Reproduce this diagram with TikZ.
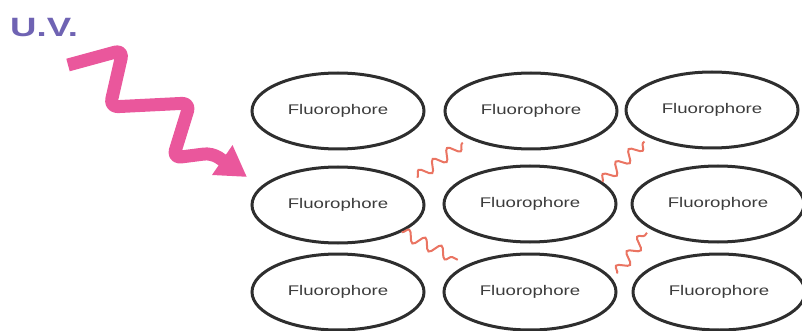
\documentclass[tikz,border=0pt]{standalone}
\usepackage{fontspec}
\usepackage{xcolor}
\usepackage{tikz}
\usetikzlibrary{arrows.meta,calc,shapes.geometric,decorations.pathmorphing}
\newfontfamily\fluofont[FakeStretch=1.33]{Liberation Sans}
\newfontfamily\uvfont[FakeStretch=1.38]{Liberation Sans}
\definecolor{Ink}{HTML}{2E2E2E}
\definecolor{TextGray}{HTML}{3C3C3C}
\definecolor{UVPurple}{HTML}{6F63B3}
\definecolor{UVPink}{HTML}{EA579C}
\definecolor{Glow}{HTML}{EA7462}

\begin{document}
\begin{tikzpicture}[x=1pt, y=-1pt, >=Latex]
\tikzset{fl/.style={ellipse, draw=Ink, line width=3pt, minimum width=172pt, minimum height=76pt, inner sep=0pt, text=TextGray, font=\fluofont\fontsize{14}{16}\selectfont}, glow/.style={Glow, line width=2pt, decorate, decoration={snake, segment length=18pt, amplitude=5.5pt}}, uvray/.style={UVPink, line width=13pt, rounded corners=8pt, line join=round, -{Triangle[length=30pt, width=34pt]}}}
\useasboundingbox (0,0) rectangle (802,331);
\node[anchor=base west, inner sep=0pt, text=UVPurple, font=\uvfont\bfseries\fontsize{26.5}{30}\selectfont] (uv) at (10,37) {U.V.};
\node[fl] (f11) at (338,111) {Fluorophore};
\node[fl] (f12) at (531,111) {Fluorophore};
\node[fl] (f13) at (712,110) {Fluorophore};
\node[fl] (f21) at (338,205) {Fluorophore};
\node[fl] (f22) at (530,204) {Fluorophore};
\node[fl] (f23) at (718,204) {Fluorophore};
\node[fl] (f31) at (338,292) {Fluorophore};
\node[fl] (f32) at (530,292) {Fluorophore};
\node[fl] (f33) at (719,292) {Fluorophore};
\draw[uvray] (68,65) -- (123,50) -- (110,107) -- (190,103) -- (173,158) -- (212,153) -- (247,177);
\foreach \u/\au/\su/\v/\av/\sv in {f21/19/1.14/f12/205/1.12, f22/17/1/f13/205/1.11, f21/337/1/f32/156/1.16, f32/12/1.1/f23/202/1.09} \draw[glow] ($(\u)!\su!(\u.\au)$) -- ($(\v)!\sv!(\v.\av)$);
\end{tikzpicture}
\end{document}
